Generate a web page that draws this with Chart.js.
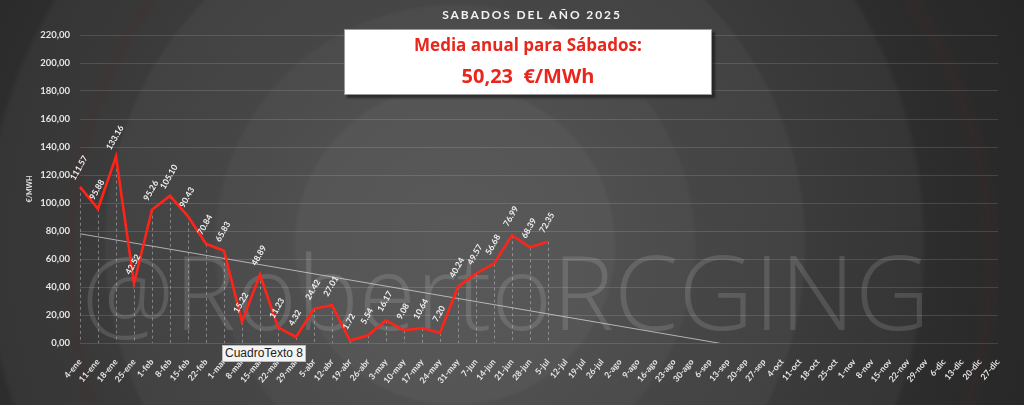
<!DOCTYPE html>
<html>
<head>
<meta charset="utf-8">
<script src="https://cdn.jsdelivr.net/npm/chart.js@4.4.1/dist/chart.umd.min.js"></script>
<style>
  html, body { margin: 0; padding: 0; }
  body {
    width: 1024px; height: 405px; overflow: hidden; position: relative;
    background:
      radial-gradient(circle at 530px 260px, rgba(0,0,0,0) 0px, rgba(0,0,0,0) 450px, rgba(75,40,40,0.2) 460px, rgba(0,0,0,0) 472px),
      radial-gradient(circle at 455px 245px, #595959 0px, #555555 158px, #4f4f4f 162px, #4b4b4b 238px, #464646 242px, #424242 348px, #3b3b3b 352px, #353535 466px, #2d2d2d 472px, #262626 620px, #202020 760px);
  }
  #wm {
    position: absolute; left: 82px; top: 238px; z-index: 0;
    font-family: "Open Sans", sans-serif; font-weight: 300; font-size: 104px;
    line-height: 1; color: rgba(255,255,255,0.13); white-space: nowrap;
  }
  #titulo {
    position: absolute; left: 40px; width: 984px; top: 7px; text-align: center; z-index: 2;
    font-family: Lato, sans-serif; font-weight: 700; font-size: 12px; letter-spacing: 1.9px;
    color: #f2f2f2;
  }
  #caja {
    position: absolute; left: 344px; top: 29px; width: 366px; height: 64px; z-index: 2;
    background: #fff; border: 1px solid #9a9a9a; box-shadow: 3px 3px 2px rgba(20,20,20,0.6);
    text-align: center; color: #e8261c; font-family: "Open Sans", sans-serif; font-weight: 700;
  }
  #caja .l1 { position: absolute; left: 0; width: 100%; top: 3px; font-size: 17px; }
  #caja .l2 { position: absolute; left: 0; width: 100%; top: 32px; font-size: 20px; white-space: pre; }
  #cuadro {
    position: absolute; left: 222px; top: 345px; width: 84px; height: 17px; z-index: 3;
    background: #f4f4f4; border: 1px solid #bbb; box-sizing: border-box;
    font-family: "Liberation Sans", Arial, sans-serif; font-size: 12px; color: #222;
    line-height: 15px; text-align: center;
  }
  #wrap { position: absolute; left: 0; top: 0; width: 1024px; height: 405px; z-index: 1; }
</style>
</head>
<body>
<div id="wm">@RobertoRCGING</div>
<div id="wrap"><canvas id="grafico" width="1024" height="405"></canvas></div>
<div id="titulo">SABADOS DEL AÑO 2025</div>
<div id="caja"><div class="l1">Media anual para Sábados:</div><div class="l2">50,23  €/MWh</div></div>
<div id="cuadro">CuadroTexto 8</div>
<script>
const sabados = ['4-ene', '11-ene', '18-ene', '25-ene', '1-feb', '8-feb', '15-feb', '22-feb',
  '1-mar', '8-mar', '15-mar', '22-mar', '29-mar', '5-abr', '12-abr', '19-abr', '26-abr',
  '3-may', '10-may', '17-may', '24-may', '31-may', '7-jun', '14-jun', '21-jun', '28-jun',
  '5-jul', '12-jul', '19-jul', '26-jul', '2-ago', '9-ago', '16-ago', '23-ago', '30-ago',
  '6-sep', '13-sep', '20-sep', '27-sep', '4-oct', '11-oct', '18-oct', '25-oct',
  '1-nov', '8-nov', '15-nov', '22-nov', '29-nov', '6-dic', '13-dic', '20-dic', '27-dic'];

const precios = [111.57, 95.88, 133.16, 42.52, 95.26, 105.10, 90.43, 70.84, 65.83, 15.22,
  48.89, 11.23, 4.32, 24.42, 27.01, 1.72, 5.54, 16.17, 9.08, 10.64, 7.20, 40.24, 49.57,
  56.68, 76.99, 68.39, 72.35];

// tendencia lineal (inicio y fin)
const tendencia = [{x: '4-ene', y: 78}, {x: '13-sep', y: -1.2}];

const rojo = '#ff2418';
const fuente = 'Lato, "DejaVu Sans", sans-serif';

// lineas verticales discontinuas desde cada punto hasta el eje
const lineasCaida = {
  id: 'lineasCaida',
  beforeDatasetsDraw(chart) {
    const ctx = chart.ctx;
    const fondo = chart.chartArea.bottom;
    ctx.save();
    ctx.strokeStyle = 'rgba(210,210,210,0.45)';
    ctx.lineWidth = 1;
    ctx.setLineDash([3, 3]);
    chart.getDatasetMeta(0).data.forEach((p, i) => {
      if (precios[i] == null) return;
      ctx.beginPath();
      ctx.moveTo(Math.round(p.x) + 0.5, p.y);
      ctx.lineTo(Math.round(p.x) + 0.5, fondo);
      ctx.stroke();
    });
    ctx.restore();
  }
};

// etiquetas de valor giradas
const etiquetas = {
  id: 'etiquetas',
  afterDatasetsDraw(chart) {
    const ctx = chart.ctx;
    ctx.save();
    ctx.font = 'bold 8.5px ' + fuente;
    ctx.fillStyle = '#f0f0f0';
    ctx.textAlign = 'center';
    ctx.textBaseline = 'middle';
    chart.getDatasetMeta(0).data.forEach((p, i) => {
      if (precios[i] == null) return;
      ctx.save();
      ctx.translate(p.x - 1, p.y - 19);
      ctx.rotate(-60 * Math.PI / 180);
      ctx.fillText(precios[i].toFixed(2), 0, 0);
      ctx.restore();
    });
    ctx.restore();
  }
};

const ctx = document.getElementById('grafico').getContext('2d');
new Chart(ctx, {
  type: 'line',
  data: {
    labels: sabados,
    datasets: [{
      label: 'Sábados',
      data: precios,
      borderColor: rojo,
      borderWidth: 2.6,
      pointRadius: 0,
      tension: 0,
      fill: false
    }, {
      label: 'Tendencia',
      data: tendencia,
      borderColor: 'rgba(215,215,215,0.75)',
      borderWidth: 1,
      pointRadius: 0,
      fill: false
    }]
  },
  options: {
    responsive: false,
    animation: false,
    layout: { padding: { left: 0, right: 26, top: 35, bottom: 0 } },
    plugins: {
      legend: { display: false },
      tooltip: { enabled: false }
    },
    scales: {
      x: {
        offset: false,
        grid: { display: false },
        border: { display: false },
        ticks: {
          autoSkip: false,
          maxRotation: 50,
          minRotation: 50,
          padding: 6,
          color: '#e6e6e6',
          font: { family: fuente, weight: 'bold', size: 8.5 }
        },
        afterFit(scale) { scale.height = 62; }
      },
      y: {
        min: 0,
        max: 220,
        grid: { color: 'rgba(255,255,255,0.13)', drawTicks: false },
        border: { display: false },
        title: {
          display: true,
          text: '€/MWH',
          color: '#e6e6e6',
          padding: { top: 26, bottom: 0 },
          font: { family: fuente, weight: 'bold', size: 7 }
        },
        ticks: {
          stepSize: 20,
          padding: 10,
          color: '#e6e6e6',
          font: { family: fuente, weight: 'bold', size: 9.5 },
          callback: v => v.toFixed(2).replace('.', ',')
        },
        afterFit(scale) { scale.width = 80; }
      }
    }
  },
  plugins: [lineasCaida, etiquetas]
});
</script>
</body>
</html>
